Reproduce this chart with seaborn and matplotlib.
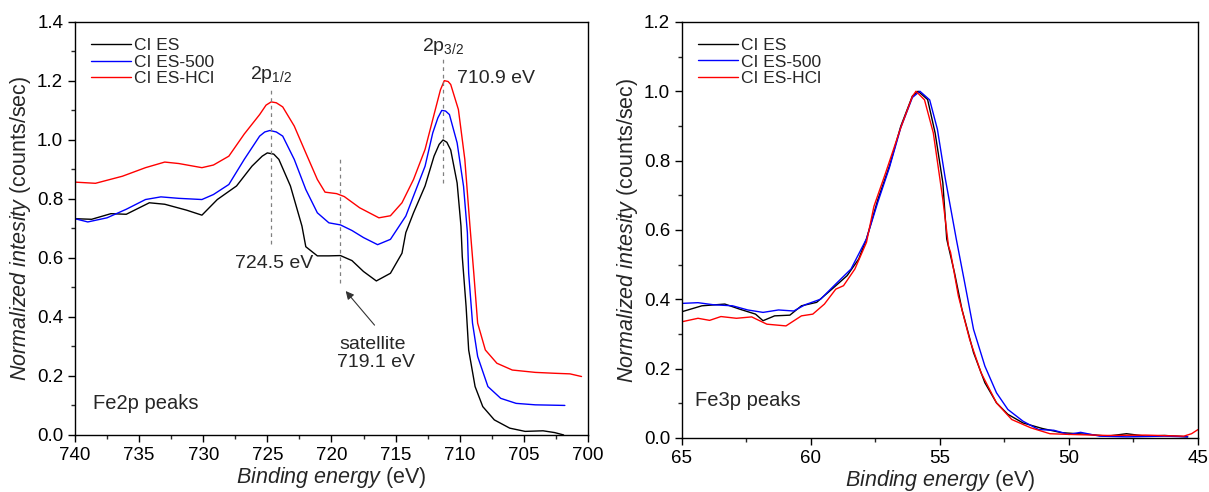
import numpy as np
import pandas as pd
import matplotlib
matplotlib.use("Agg")
import matplotlib.pyplot as plt
import seaborn as sns
from matplotlib.ticker import MultipleLocator

#%%
# Fe2p region (binding energy in eV, normalized intensity)
fe2p_black_x = [740.0, 738.7, 737.2, 736.0, 734.2, 733.0, 731.3, 730.1, 728.9, 727.4, 726.2, 725.4, 725.0,
                724.5, 724.1, 723.2, 722.3, 722.0, 721.1, 720.2, 719.3, 718.4, 717.5, 716.5, 715.4, 714.5,
                714.2, 713.6, 712.7, 712.0, 711.6, 711.3, 711.0, 710.7, 710.2, 709.9, 709.8, 709.5, 709.3, 708.8,
                708.2, 707.3, 706.1, 704.9, 703.5, 702.6, 701.9]
fe2p_black_y = [0.733, 0.731, 0.750, 0.748, 0.787, 0.782, 0.762, 0.745, 0.798, 0.844, 0.911, 0.945, 0.956,
                0.952, 0.934, 0.844, 0.708, 0.638, 0.607, 0.607, 0.608, 0.591, 0.554, 0.522, 0.548, 0.616,
                0.686, 0.753, 0.844, 0.945, 0.985, 1.000, 0.992, 0.966, 0.854, 0.708, 0.605, 0.435, 0.288, 0.164,
                0.096, 0.051, 0.023, 0.012, 0.014, 0.008, 0.000]

fe2p_blue_x = [740.0, 739.0, 737.5, 736.0, 734.5, 733.3, 731.9, 730.1, 729.2, 728.0, 726.8, 725.6, 725.2,
               724.8, 724.3, 723.8, 722.9, 722.0, 721.1, 720.2, 719.3, 718.4, 717.5, 716.4, 715.4, 714.2,
               713.6, 712.7, 712.1, 711.7, 711.4, 711.1, 710.8, 710.2, 709.7, 709.4, 709.3, 709.0, 708.6, 707.8,
               706.8, 705.6, 704.1, 701.8]
fe2p_blue_y = [0.733, 0.722, 0.736, 0.765, 0.798, 0.807, 0.802, 0.798, 0.815, 0.849, 0.934, 1.013, 1.027,
               1.032, 1.027, 1.013, 0.934, 0.832, 0.753, 0.719, 0.712, 0.693, 0.669, 0.645, 0.663, 0.742,
               0.810, 0.911, 1.024, 1.075, 1.100, 1.098, 1.086, 0.990, 0.843, 0.686, 0.548, 0.379, 0.266, 0.164,
               0.124, 0.107, 0.102, 0.100]

fe2p_red_x = [740.0, 738.4, 736.3, 734.5, 733.0, 731.9, 730.1, 729.2, 728.0, 726.8, 725.6, 725.1, 724.7,
              724.3, 723.8, 722.9, 722.0, 721.1, 720.5, 719.6, 719.0, 717.8, 716.3, 715.4, 714.5, 713.6,
              712.7, 711.9, 711.5, 711.2, 710.9, 710.7, 710.1, 709.6, 709.2, 708.9, 708.6, 708.0, 707.1, 705.9,
              704.1, 702.6, 701.4, 700.5]
fe2p_red_y = [0.857, 0.853, 0.877, 0.906, 0.925, 0.920, 0.906, 0.915, 0.945, 1.020, 1.086, 1.118, 1.129,
              1.126, 1.112, 1.047, 0.956, 0.866, 0.823, 0.818, 0.808, 0.770, 0.736, 0.743, 0.787, 0.866,
              0.968, 1.103, 1.170, 1.201, 1.198, 1.188, 1.103, 0.934, 0.708, 0.548, 0.379, 0.288, 0.243, 0.220,
              0.212, 0.209, 0.207, 0.198]

# Fe3p region
fe3p_black_x = [65.0, 64.23, 63.34, 62.75, 62.15, 61.86, 61.41, 60.82, 60.37, 59.78, 59.19, 58.6,
                58.15, 57.85, 57.41, 56.96, 56.52, 56.07, 55.85, 55.48, 55.19, 54.89, 54.74, 54.44,
                54.15, 53.7, 53.26, 52.81, 52.37, 51.78, 51.03, 50.29, 49.25, 48.51, 47.77, 47.03,
                46.29, 45.4]
fe3p_black_y = [0.364, 0.381, 0.386, 0.371, 0.357, 0.338, 0.352, 0.354, 0.381, 0.391, 0.429, 0.468,
                0.516, 0.574, 0.687, 0.784, 0.899, 0.986, 1.000, 0.976, 0.880, 0.736, 0.574, 0.477,
                0.371, 0.246, 0.159, 0.101, 0.068, 0.043, 0.027, 0.015, 0.010, 0.005, 0.012, 0.005,
                0.007, 0.003]

fe3p_blue_x = [65.0, 64.38, 63.78, 63.04, 62.45, 61.86, 61.26, 60.67, 60.23, 59.63, 59.04, 58.45,
               57.85, 57.41, 56.96, 56.52, 56.07, 55.78, 55.4, 55.1, 54.8, 54.37, 54.07, 53.7,
               53.26, 52.81, 52.37, 51.78, 51.18, 50.59, 50.0, 49.55, 48.81, 47.77, 46.29, 45.4]
fe3p_blue_y = [0.388, 0.390, 0.384, 0.381, 0.369, 0.362, 0.369, 0.366, 0.384, 0.400, 0.444, 0.487,
               0.574, 0.680, 0.780, 0.895, 0.982, 1.000, 0.975, 0.890, 0.750, 0.574, 0.458, 0.313,
               0.207, 0.130, 0.082, 0.048, 0.024, 0.022, 0.010, 0.016, 0.005, 0.003, 0.005, 0.003]

fe3p_red_x = [65.0, 64.38, 63.93, 63.49, 62.89, 62.3, 61.71, 60.97, 60.37, 59.93, 59.48, 59.04,
              58.74, 58.3, 57.85, 57.56, 57.11, 56.52, 56.07, 55.93, 55.6, 55.26, 54.89, 54.67,
              54.59, 54.29, 53.85, 53.41, 52.81, 52.22, 51.48, 50.74, 50.0, 48.51, 47.03, 45.55,
              45.25, 45.0]
fe3p_red_y = [0.335, 0.345, 0.339, 0.350, 0.345, 0.349, 0.328, 0.323, 0.352, 0.357, 0.386, 0.429,
              0.439, 0.487, 0.564, 0.668, 0.764, 0.895, 0.985, 1.000, 0.975, 0.880, 0.688, 0.553,
              0.535, 0.410, 0.284, 0.188, 0.101, 0.053, 0.029, 0.012, 0.010, 0.007, 0.008, 0.005,
              0.012, 0.024]

labels = ['CI ES', 'CI ES-500', 'CI ES-HCl']
colors = ['black', '#0000ff', '#ff0000']

#%%
sns.set_style("ticks")
plt.rcParams['font.family'] = ['Liberation Sans', 'DejaVu Sans']
plt.rcParams['mathtext.fontset'] = 'custom'
plt.rcParams['mathtext.rm'] = 'Liberation Sans'
plt.rcParams['mathtext.it'] = 'Liberation Sans:italic'

fig = plt.figure(figsize=(12.09, 4.92), dpi=100)
ax1 = fig.add_axes([0.062, 0.116, 0.4243, 0.8394])
ax2 = fig.add_axes([0.5641, 0.110, 0.4268, 0.8455])

fe2p = [(fe2p_black_x, fe2p_black_y), (fe2p_blue_x, fe2p_blue_y), (fe2p_red_x, fe2p_red_y)]
fe3p = [(fe3p_black_x, fe3p_black_y), (fe3p_blue_x, fe3p_blue_y), (fe3p_red_x, fe3p_red_y)]

for (x, y), lab, c in zip(fe2p, labels, colors):
    sns.lineplot(x=x, y=y, ax=ax1, color=c, label=lab, sort=False, estimator=None, linewidth=1.0)
for (x, y), lab, c in zip(fe3p, labels, colors):
    sns.lineplot(x=x, y=y, ax=ax2, color=c, label=lab, sort=False, estimator=None, linewidth=1.0)

# axes styling
for ax in (ax1, ax2):
    for s in ax.spines.values():
        s.set_visible(True)
        s.set_linewidth(1.0)
        s.set_color('black')
    ax.tick_params(which='major', direction='out', length=5, width=1, labelsize=13.5,
                   top=False, right=False, colors='black')
    ax.tick_params(which='minor', direction='out', length=3, width=1, top=False, right=False)
    ax.yaxis.set_major_locator(MultipleLocator(0.2))
    ax.yaxis.set_minor_locator(MultipleLocator(0.1))
    ax.xaxis.set_major_locator(MultipleLocator(5))
    ax.xaxis.set_minor_locator(MultipleLocator(2.5))
    ax.yaxis.set_major_formatter(plt.FuncFormatter(lambda v, _: '{:.1f}'.format(v)))
    ax.set_xlabel(r'$\it{Binding\ energy}$ (eV)', fontsize=15.5, labelpad=1)
    ax.set_ylabel(r'$\it{Normalized\ intesity}$ (counts/sec)', fontsize=15.5, labelpad=3)
    ax.legend(loc='upper left', frameon=False, fontsize=12.5, handlelength=2.3,
              labelspacing=0.1, borderaxespad=0.5, handletextpad=0.2)

ax1.set_xlim(740, 700)
ax1.set_ylim(0, 1.4)
ax2.set_xlim(65, 45)
ax2.set_ylim(0, 1.2)

# annotations for Fe2p
dash = dict(color='gray', linestyle=(0, (3, 3)), linewidth=0.9)
ax1.plot([724.7, 724.7], [0.647, 1.18], **dash)
ax1.plot([719.35, 719.35], [0.515, 0.935], **dash)
ax1.plot([711.3, 711.3], [0.854, 1.278], **dash)

ax1.text(724.7, 1.185, r'2p$_{1/2}$', fontsize=14, ha='center', va='bottom')
ax1.text(711.3, 1.28, r'2p$_{3/2}$', fontsize=14, ha='center', va='bottom')
ax1.text(707.2, 1.207, '710.9 eV', fontsize=14, ha='center', va='center')
ax1.text(724.48, 0.58, '724.5 eV', fontsize=14, ha='center', va='center')
ax1.text(716.8, 0.308, 'satellite', fontsize=14, ha='center', va='center')
ax1.text(716.5, 0.245, '719.1 eV', fontsize=14, ha='center', va='center')
ax1.annotate('', xy=(719.03, 0.495), xytext=(716.5, 0.365),
             arrowprops=dict(arrowstyle='-|>', color='#333333', lw=0.8, mutation_scale=12))
ax1.text(738.6, 0.108, 'Fe2p peaks', fontsize=14.5, ha='left', va='center')

ax2.text(64.5, 0.108, 'Fe3p peaks', fontsize=14.5, ha='left', va='center')

plt.savefig('out.png', dpi=100)
